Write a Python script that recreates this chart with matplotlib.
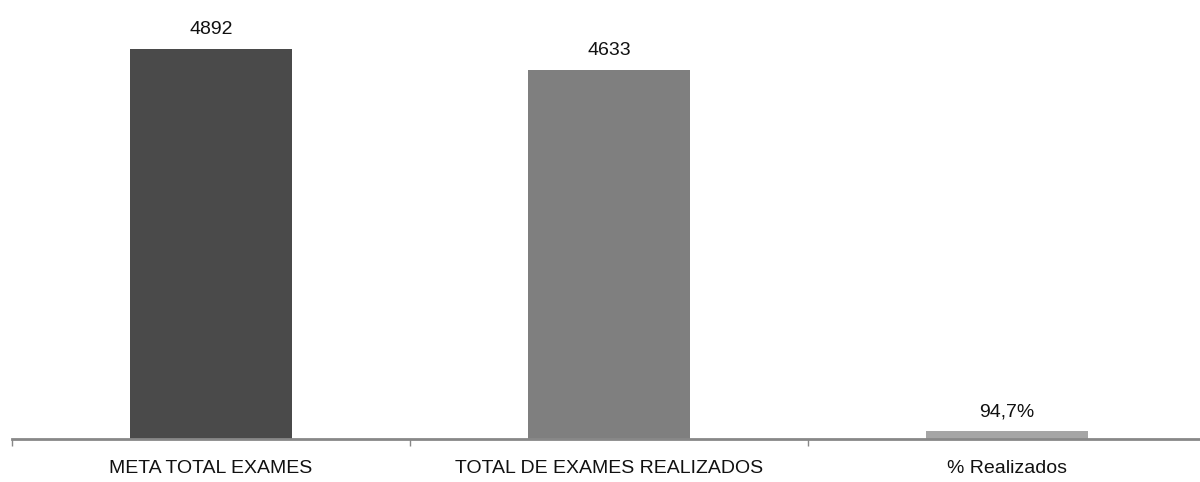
import matplotlib
matplotlib.use("Agg")
import matplotlib.pyplot as plt
from matplotlib.ticker import FixedLocator, NullFormatter

categories = ["META TOTAL EXAMES", "TOTAL DE EXAMES REALIZADOS", "% Realizados"]
values = [4892, 4633, 94.7]
value_labels = ["4892", "4633", "94,7%"]
colors = ["#4a4a4a", "#7f7f7f", "#a5a5a5"]

plt.rcParams['font.family'] = ['Liberation Sans', 'DejaVu Sans']

fig = plt.figure(figsize=(12, 4.82), dpi=100)
ax = fig.add_axes([12/1200, 43/482, 1194/1200, 438.5/482])

x = list(range(len(categories)))
bars = ax.bar(x, values, width=0.405, color=colors)
ax.set_xlim(-0.5, len(categories) - 0.5)
ax.set_ylim(0, 5500)

for b, lab in zip(bars, value_labels):
    ax.annotate(lab, (b.get_x() + b.get_width()/2, b.get_height()),
                xytext=(0, 8), textcoords="offset points",
                ha="center", va="bottom", fontsize=14, color="#111111")

for s in ["top", "right", "left"]:
    ax.spines[s].set_visible(False)
ax.spines["bottom"].set_color("#888888")
ax.spines["bottom"].set_linewidth(2)
ax.set_yticks([])
ax.xaxis.set_major_locator(FixedLocator([i - 0.5 for i in range(len(categories) + 1)]))
ax.xaxis.set_major_formatter(NullFormatter())
ax.xaxis.set_minor_locator(FixedLocator(x))
ax.set_xticklabels(categories, minor=True)
ax.tick_params(axis="x", which="major", length=5, width=1, color="#888888", direction="out")
ax.tick_params(axis="x", which="minor", length=0, pad=15, labelsize=14, labelcolor="#111111")

fig.savefig("out.png", dpi=100)
